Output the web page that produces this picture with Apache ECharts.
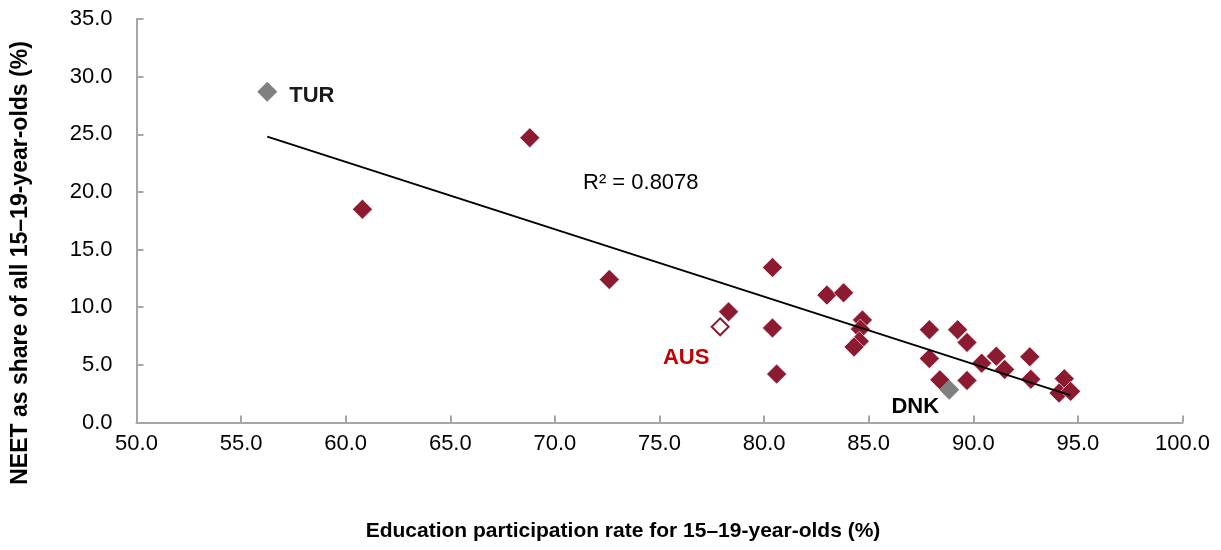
<!DOCTYPE html>
<html>
<head>
<meta charset="utf-8">
<script src="https://cdn.jsdelivr.net/npm/echarts@6/dist/echarts.min.js"></script>
<style>
  html, body { margin: 0; padding: 0; background: #fff; }
  #chart { width: 1221px; height: 550px; }
</style>
</head>
<body>
<div id="chart"></div>
<script>
// Education participation vs NEET share, 15–19-year-olds
const otherX = [68.8, 60.8, 72.6, 78.3, 80.4, 80.4, 80.6, 83.0, 83.8, 84.7, 84.6, 84.55, 84.3,
  87.9, 87.9, 88.4, 89.25, 89.7, 89.7, 90.4, 91.1, 91.5, 92.7, 92.75, 94.35, 94.1, 94.65];
const otherY = [24.7, 18.5, 12.4, 9.6, 13.45, 8.2, 4.2, 11.05, 11.25, 8.9, 8.1, 7.05, 6.55,
  8.05, 5.55, 3.7, 8.05, 6.95, 3.65, 5.15, 5.75, 4.6, 5.7, 3.75, 3.8, 2.55, 2.7];
const turPoint = [56.25, 28.7];
const dnkPoint = [88.85, 2.85];
const ausPoint = [77.9, 8.3];
const trendX = [56.25, 94.65];
const trendY = [24.8, 2.35];
const r2Text = 'R² = 0.8078';
const xTitle = 'Education participation rate for 15–19-year-olds (%)';
const yTitle = 'NEET as share of all 15–19-year-olds (%)';
const xTicks = { min: 50, max: 100, interval: 5 };
const yTicks = { min: 0, max: 35, interval: 5 };

const SANS = "'Liberation Sans', Arial, sans-serif";
const RED = '#8C1A31';
const GREY = '#808080';
const AXIS = '#A6A6A6';

const chart = echarts.init(document.getElementById('chart'));
chart.setOption({
  animation: false,
  grid: { left: 136.5, right: 38.5, top: 19, bottom: 127.5, outerBoundsMode: 'none', containLabel: false },
  xAxis: {
    type: 'value', min: xTicks.min, max: xTicks.max, interval: xTicks.interval,
    axisLine: { lineStyle: { color: AXIS, width: 2 } },
    axisTick: { inside: true, length: 7, lineStyle: { color: AXIS, width: 2 } },
    axisLabel: { fontFamily: SANS, fontSize: 22, color: '#000', margin: 10,
      formatter: v => v.toFixed(1) },
    splitLine: { show: false }
  },
  yAxis: {
    type: 'value', min: yTicks.min, max: yTicks.max, interval: yTicks.interval,
    axisLine: { show: true, lineStyle: { color: AXIS, width: 2 } },
    axisTick: { show: true, inside: true, length: 7, lineStyle: { color: AXIS, width: 2 } },
    axisLabel: { fontFamily: SANS, fontSize: 22, color: '#000', margin: 24,
      formatter: v => v.toFixed(1) },
    splitLine: { show: false }
  },
  series: [
    {
      type: 'line', data: trendX.map((x, i) => [x, trendY[i]]),
      showSymbol: false, symbol: 'none',
      lineStyle: { color: '#000', width: 2 }, z: 3, silent: true
    },
    {
      type: 'scatter', symbol: 'diamond', symbolSize: 20,
      itemStyle: { color: RED, opacity: 1, borderColor: '#fff', borderWidth: 0.6 },
      data: otherX.map((x, i) => [x, otherY[i]]), z: 2
    },
    {
      type: 'scatter', symbol: 'diamond', symbolSize: 20,
      itemStyle: { color: GREY, opacity: 1 },
      data: [{ value: turPoint, label: {
        show: true, formatter: 'TUR', position: 'right', distance: 12, offset: [0, 4],
        fontFamily: SANS, fontWeight: 'bold', fontSize: 22, color: '#1a1a1a' } }],
      z: 2
    },
    {
      type: 'scatter', symbol: 'diamond', symbolSize: 20,
      itemStyle: { color: GREY, opacity: 1 },
      data: [{ value: dnkPoint, label: {
        show: true, formatter: 'DNK', position: 'inside', offset: [-34, 17],
        fontFamily: SANS, fontWeight: 'bold', fontSize: 22, color: '#000' } }],
      z: 4
    },
    {
      type: 'scatter', symbol: 'diamond', symbolSize: 17,
      itemStyle: { color: '#fff', opacity: 1, borderColor: RED, borderWidth: 2 },
      data: [{ value: ausPoint, label: {
        show: true, formatter: 'AUS', position: 'inside', offset: [-34, 31],
        fontFamily: SANS, fontWeight: 'bold', fontSize: 22, color: '#C00000' } }],
      z: 4
    }
  ],
  graphic: [
    {
      type: 'text', left: 583, top: 172,
      style: { text: r2Text, font: "22px " + SANS, fill: '#000' }
    },
    {
      type: 'text', x: 623, y: 531,
      style: { text: xTitle, font: "bold 21px " + SANS, fill: '#000',
        align: 'center', verticalAlign: 'middle' }
    },
    {
      type: 'text', x: 21, y: 263, rotation: Math.PI / 2,
      style: { text: yTitle, font: "bold 23px " + SANS, fill: '#000',
        align: 'center', verticalAlign: 'middle' }
    }
  ]
});
</script>
</body>
</html>
